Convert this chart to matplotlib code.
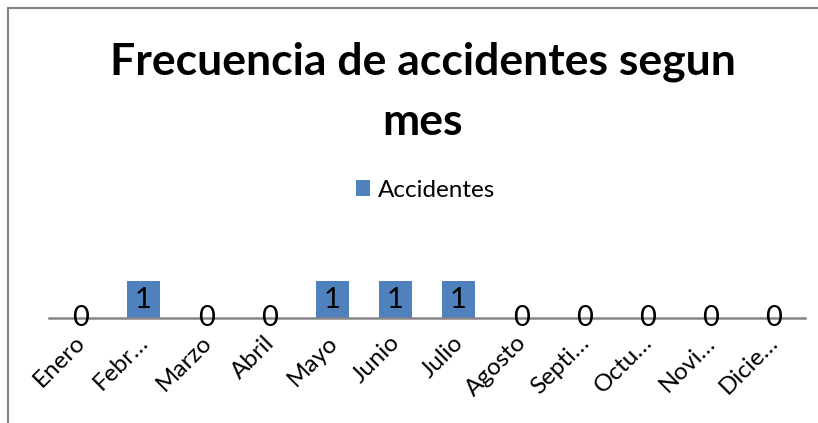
import numpy as np
import matplotlib.pyplot as plt
import matplotlib.transforms as mtransforms
from matplotlib.lines import Line2D

plt.rcParams['font.family'] = ['Lato', 'DejaVu Sans']

meses = ['Enero', 'Febr…', 'Marzo', 'Abril', 'Mayo', 'Junio', 'Julio',
         'Agosto', 'Septi…', 'Octu…', 'Novi…', 'Dicie…']
accidentes = [0, 1, 0, 0, 1, 1, 1, 0, 0, 0, 0, 0]

W, H = 818, 423
fig = plt.figure(figsize=(W / 100, H / 100), dpi=100)

# plot area in pixels
x0, x1, y0 = 49, 805, 318
ymax = 1.2
ytop = y0 - 37 * ymax
ax = fig.add_axes([x0 / W, 1 - y0 / H, (x1 - x0) / W, (y0 - ytop) / H])

x = np.arange(len(meses))
bars = ax.bar(x, accidentes, width=0.52, color='#4F81BD', label='Accidentes')
ax.set_xlim(-0.5, len(meses) - 0.5)
ax.set_ylim(0, ymax)

for xi, v in zip(x, accidentes):
    ax.text(xi, v / 2 if v > 0 else 0, str(v), ha='center', va='center', fontsize=21)

for s in ['top', 'right', 'left']:
    ax.spines[s].set_visible(False)
ax.spines['bottom'].set_color('#868686')
ax.spines['bottom'].set_linewidth(1.8)
ax.set_yticks([])
ax.set_xticks(x)
ax.set_xticklabels(meses, rotation=45, ha='right', rotation_mode='anchor', fontsize=17.5)
ax.tick_params(axis='x', length=0, pad=10)
shift = mtransforms.ScaledTranslation(-6 / 100, 0, fig.dpi_scale_trans)
for lbl in ax.get_xticklabels():
    lbl.set_transform(lbl.get_transform() + shift)

fig.text(0.517, 1 - 62 / H, 'Frecuencia de accidentes segun', ha='center', va='center',
         fontsize=32, fontweight='bold')
fig.text(0.517, 1 - 122 / H, 'mes', ha='center', va='center',
         fontsize=32, fontweight='bold')

fig.legend(handles=[bars], labels=['Accidentes'], loc='center', bbox_to_anchor=(0.52, 1 - 190 / H),
           frameon=False, fontsize=17.5, handlelength=0.6, handleheight=0.6, handletextpad=0.3)

fig.add_artist(Line2D([8 / W, 8 / W], [0, 1 - 8 / H], color='#868686', lw=1.5))
fig.add_artist(Line2D([8 / W, 1], [1 - 8 / H, 1 - 8 / H], color='#868686', lw=1.5))

fig.savefig('out.png', dpi=100)
